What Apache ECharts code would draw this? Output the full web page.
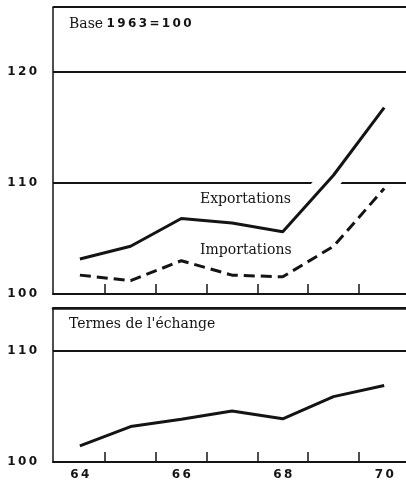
<!DOCTYPE html>
<html>
<head>
<meta charset="utf-8">
<script src="https://cdn.jsdelivr.net/npm/echarts@6/dist/echarts.min.js"></script>
<style>
html,body{margin:0;padding:0;background:#fff;}
#c{width:406px;height:489px;}
</style>
</head>
<body>
<div id="c"></div>
<script>
// ---- data ----
const years = [64, 65, 66, 67, 68, 69, 70];
const exportations = [103.15, 104.3, 106.8, 106.4, 105.6, 110.7, 116.8];
const importations = [101.7, 101.2, 103.0, 101.7, 101.55, 104.3, 109.5];
const termesEchange = [101.45, 103.2, 103.85, 104.6, 103.9, 105.9, 106.9];
const xTickValues = [64.5, 65.5, 66.5, 67.5, 68.5, 69.5];
const xLabelValues = [64, 66, 68, 70];
const yLabelsTop = [100, 110, 120];
const yLabelsBottom = [100, 110];
const titleTop = ['Base', '1963=100'];
const titleBottom = "Termes de l'échange";
const labelExp = 'Exportations';
const labelImp = 'Importations';

const ink = '#141414';
const spaced = v => String(v).split('').join('\u2009');
const pairs = arr => years.map((y, i) => [y, arr[i]]);

const xMin = 63.47, xMax = 70.43;

function bottomX(gridIndex, showLabels) {
  return {
    type: 'value', gridIndex, position: 'bottom', min: xMin, max: xMax,
    axisLine: {show: true, onZero: false, lineStyle: {color: ink, width: 2}},
    axisTick: {show: true, inside: true, length: 10, customValues: xTickValues, lineStyle: {color: ink, width: 1.5}},
    axisLabel: {show: showLabels, customValues: xLabelValues, margin: 7, color: ink,
      fontFamily: 'DejaVu Sans', fontWeight: 'bold', fontSize: 12, formatter: v => spaced(v)},
    splitLine: {show: false}
  };
}
function topX(gridIndex, w) {
  return {
    type: 'value', gridIndex, position: 'top', min: xMin, max: xMax,
    axisLine: {show: true, onZero: false, lineStyle: {color: ink, width: w}},
    axisTick: {show: false}, axisLabel: {show: false}, splitLine: {show: false}
  };
}
function yAx(gridIndex, max, labels) {
  return {
    type: 'value', gridIndex, min: 100, max: max, interval: 10,
    axisLine: {show: true, onZero: false, lineStyle: {color: ink, width: 1.5}},
    axisTick: {show: false},
    axisLabel: {customValues: labels, margin: 16, color: ink,
      fontFamily: 'DejaVu Sans', fontWeight: 'bold', fontSize: 12, formatter: v => spaced(v)},
    splitLine: {show: true, lineStyle: {color: ink, width: 1.8}}
  };
}

const chart = echarts.init(document.getElementById('c'), null, {renderer: 'canvas'});
chart.setOption({
  backgroundColor: '#fff',
  animation: false,
  grid: [
    {left: 53, right: -2, top: 7, bottom: 195},
    {left: 53, right: -2, top: 308, bottom: 27}
  ],
  xAxis: [bottomX(0, false), topX(0, 1), bottomX(1, true), topX(1, 2.5)],
  yAxis: [yAx(0, 125.86, yLabelsTop), yAx(1, 113.9, yLabelsBottom)],
  series: [
    {type: 'line', xAxisIndex: 0, yAxisIndex: 0, data: pairs(exportations), symbol: 'none', silent: true,
     lineStyle: {color: '#fff', width: 22}, z: 1},
    {type: 'line', xAxisIndex: 0, yAxisIndex: 0, data: pairs(importations), symbol: 'none',
     lineStyle: {color: ink, width: 3, type: [11, 6]}, z: 3},
    {type: 'line', xAxisIndex: 0, yAxisIndex: 0, data: pairs(exportations), symbol: 'none',
     lineStyle: {color: ink, width: 3}, z: 3},
    {type: 'line', xAxisIndex: 2, yAxisIndex: 1, data: pairs(termesEchange), symbol: 'none',
     lineStyle: {color: ink, width: 3}, z: 3}
  ],
  graphic: [
    {type: 'text', left: 69, top: 17, z: 100, style: {
      text: '{a|' + titleTop[0] + '} {b|' + spaced(titleTop[1]) + '}',
      rich: {
        a: {fontFamily: 'DejaVu Serif', fontSize: 14, fill: ink},
        b: {fontFamily: 'DejaVu Sans', fontWeight: 'bold', fontSize: 12, fill: ink}
      }}},
    {type: 'text', left: 69, top: 317, z: 100, style: {text: titleBottom, fontFamily: 'DejaVu Serif', fontSize: 14, fill: ink}},
    {type: 'text', left: 200, top: 192, z: 100, style: {text: labelExp, fontFamily: 'DejaVu Serif', fontSize: 14, fill: ink}},
    {type: 'text', left: 200, top: 243, z: 100, style: {text: labelImp, fontFamily: 'DejaVu Serif', fontSize: 14, fill: ink}}
  ]
});
</script>
</body>
</html>
